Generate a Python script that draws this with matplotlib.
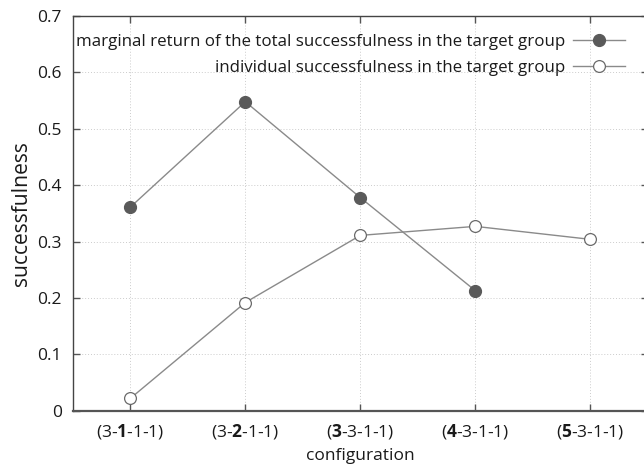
import matplotlib
matplotlib.use("Agg")
import matplotlib.pyplot as plt

plt.rcParams['font.family'] = ['Open Sans', 'DejaVu Sans']
plt.rcParams['mathtext.fontset'] = 'custom'
plt.rcParams['mathtext.rm'] = 'Open Sans'
plt.rcParams['mathtext.bf'] = 'Open Sans:bold'

# configurations (the bold digit marks the varied layer)
configs = [r"(3-$\mathbf{1}$-1-1)", r"(3-$\mathbf{2}$-1-1)", r"($\mathbf{3}$-3-1-1)",
           r"($\mathbf{4}$-3-1-1)", r"($\mathbf{5}$-3-1-1)"]
marginal_return = [0.361, 0.548, 0.378, 0.213]
individual = [0.022, 0.192, 0.311, 0.327, 0.304]
yticks = [0, 0.1, 0.2, 0.3, 0.4, 0.5, 0.6, 0.7]
ytick_labels = ["0", "0.1", "0.2", "0.3", "0.4", "0.5", "0.6", "0.7"]

fig = plt.figure(figsize=(6.44, 4.69), dpi=100)
ax = fig.add_axes([0.113, 0.124, 0.893, 0.842])

line_col = "#8a8a8a"
ax.plot(range(len(marginal_return)), marginal_return, color=line_col, lw=1.0,
        marker='o', markersize=8.5, markerfacecolor="#5a5a5a", markeredgecolor="#5a5a5a",
        label="marginal return of the total successfulness in the target group")
ax.plot(range(len(individual)), individual, color=line_col, lw=1.0,
        marker='o', markersize=8.5, markerfacecolor="white", markeredgecolor="#6a6a6a",
        markeredgewidth=0.9,
        label="individual successfulness in the target group")

ax.set_xlim(-0.5, 4.5)
ax.set_ylim(0, 0.7)
ax.set_xticks(range(len(configs)))
ax.set_xticklabels(configs)
ax.set_yticks(yticks)
ax.set_yticklabels(ytick_labels)

ax.grid(True, linestyle=(0, (1, 2)), color="#cccccc", lw=0.7)
ax.set_axisbelow(True)
ax.tick_params(direction='in', length=5, width=1, color="#555555",
               top=True, right=True, labelsize=12.5, pad=8, labelcolor="#1a1a1a")

for side in ['left', 'top', 'right']:
    ax.spines[side].set_color("#444444")
    ax.spines[side].set_linewidth(1.0)
ax.spines['bottom'].set_color("#555555")
ax.spines['bottom'].set_linewidth(1.6)

ax.set_xlabel("configuration", fontsize=12.5, color="#1a1a1a", labelpad=5)
ax.set_ylabel("successfulness", fontsize=15.2, color="#1a1a1a", labelpad=4)

leg = ax.legend(loc='upper right', frameon=False, markerfirst=False, fontsize=12.2,
                handlelength=3.05, handletextpad=0.5, borderaxespad=0.0,
                labelspacing=0.6, bbox_to_anchor=(0.972, 0.972))
for t in leg.get_texts():
    t.set_color("#1a1a1a")

fig.savefig("out.png", dpi=100)
